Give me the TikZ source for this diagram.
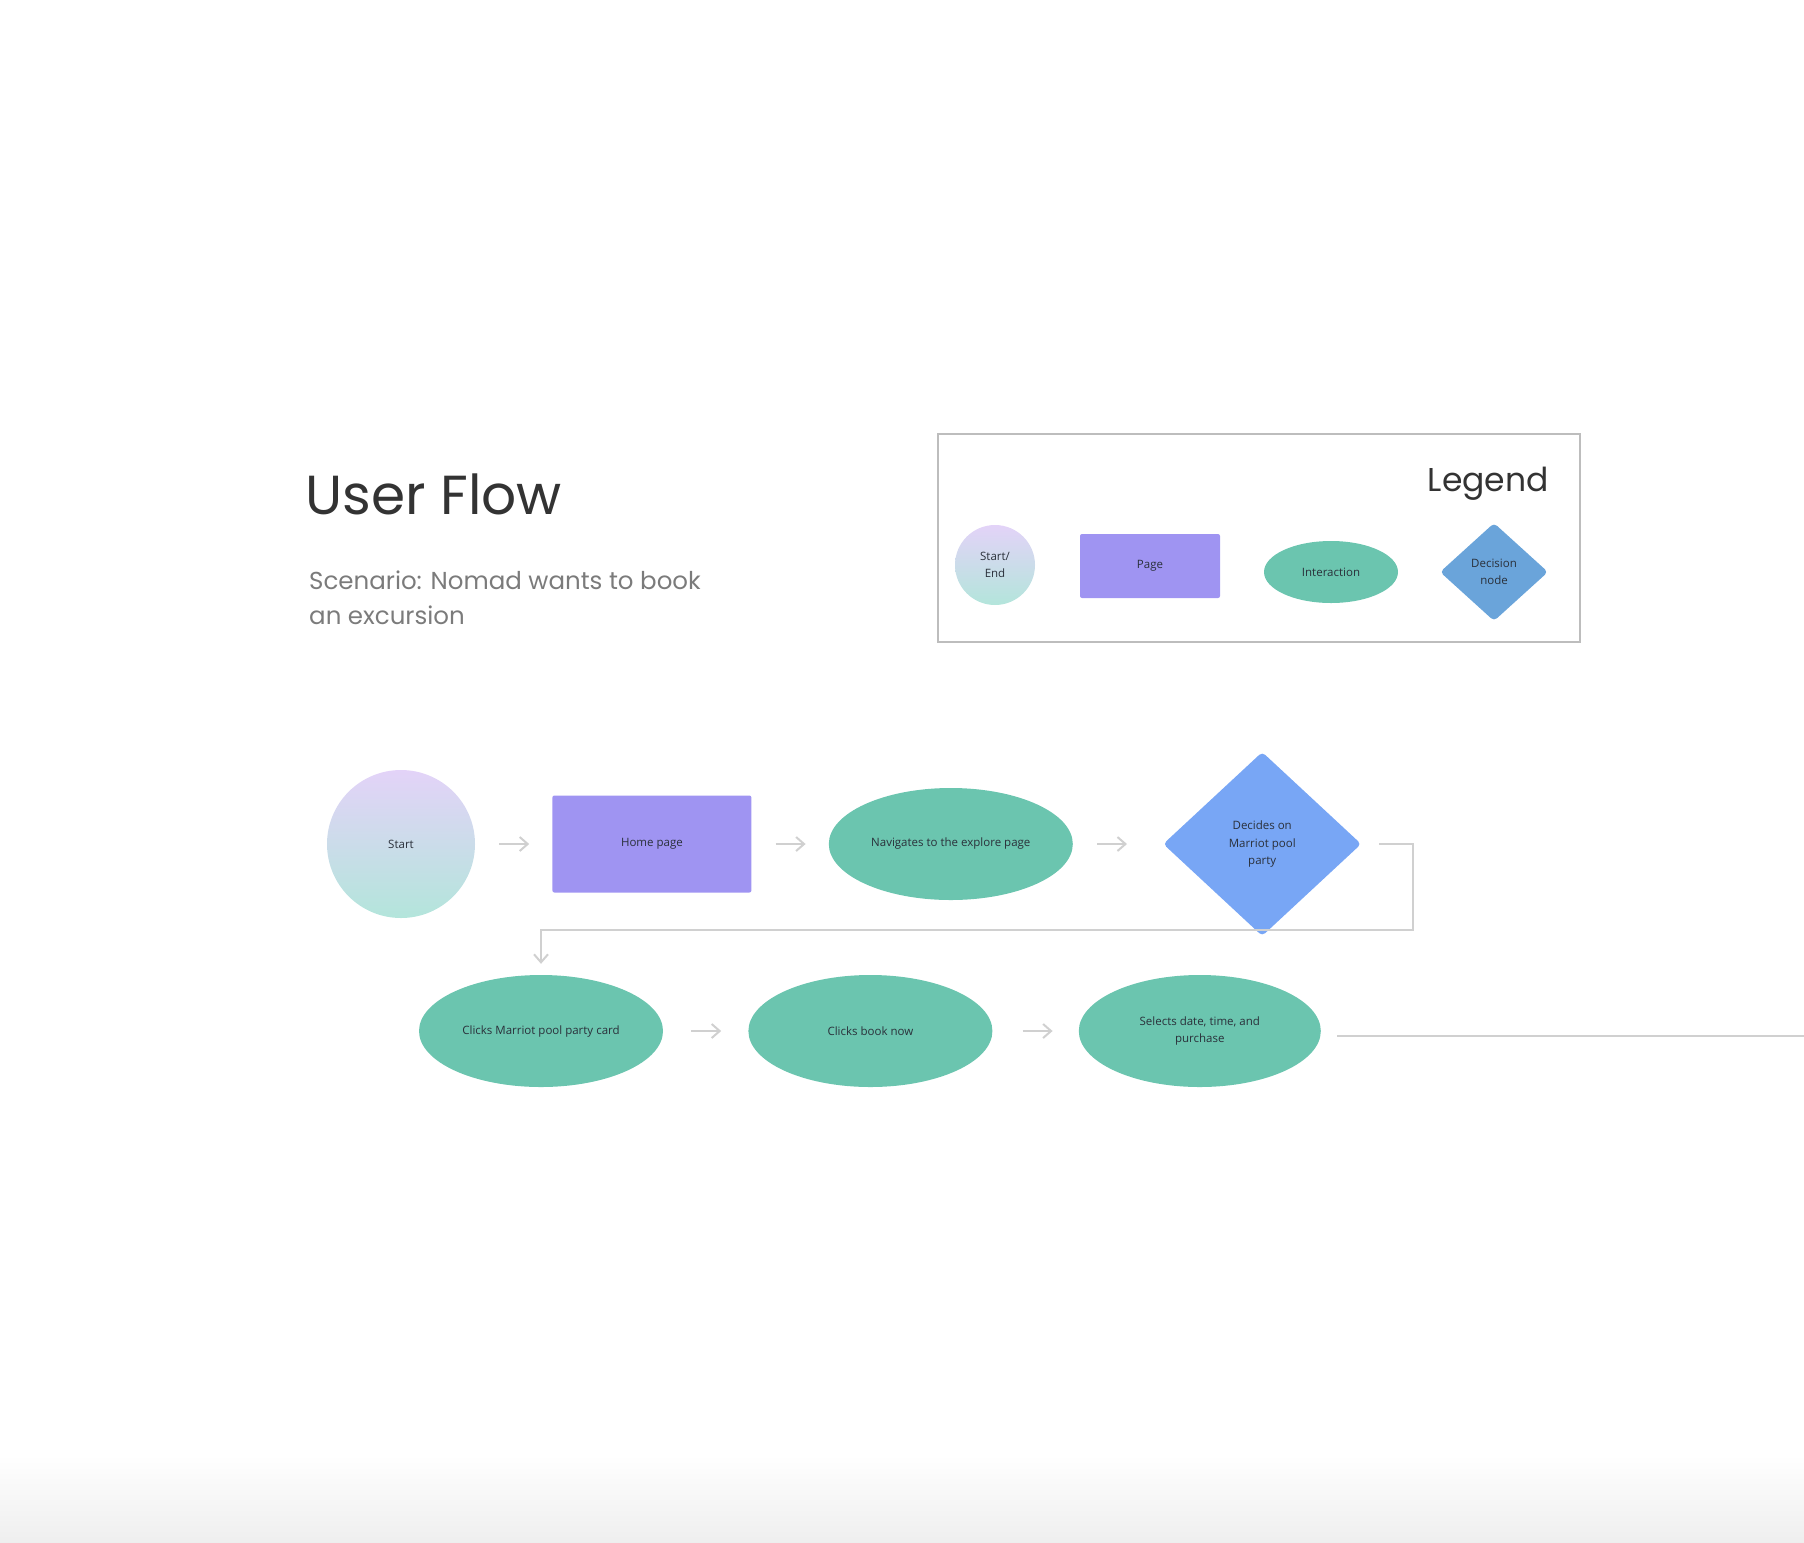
\documentclass[tikz,border=0pt]{standalone}
\usepackage{fontspec}
\usepackage{xcolor}
\usepackage{tikz}
\usetikzlibrary{arrows.meta, positioning, shapes.geometric}
\setmainfont{Open Sans}
\newfontfamily\poppins{Poppins}
\definecolor{lav}{HTML}{E3D3F8}
\definecolor{mint}{HTML}{B3E5DB}
\definecolor{pagepurple}{HTML}{9F94F2}
\definecolor{actgreen}{HTML}{6BC5AF}
\definecolor{decblue}{HTML}{78A6F5}
\definecolor{legblue}{HTML}{6AA4DA}
\definecolor{ink}{HTML}{2A303A}
\definecolor{titleink}{HTML}{333333}
\definecolor{subink}{HTML}{7B7B7B}
\definecolor{linegray}{HTML}{D0D0D0}
\definecolor{boxgray}{HTML}{BDBDBD}

\begin{document}
\begin{tikzpicture}[
      x=1pt, y=-1pt,
      node distance=77pt and 77pt,
      startend/.style={circle, inner sep=0pt, top color=lav, bottom color=mint, draw=none, align=center, font=\fontsize{11.5}{17}\selectfont, text=ink},
      pagebox/.style={rectangle, rounded corners=2pt, fill=pagepurple, inner sep=0pt, align=center, font=\fontsize{11.5}{17}\selectfont, text=ink},
      act/.style={ellipse, fill=actgreen, inner sep=0pt, align=center, font=\fontsize{11.5}{17}\selectfont, text=ink},
      choice/.style={diamond, fill=decblue, rounded corners=4pt, inner sep=0pt, align=center, font=\fontsize{11.5}{17}\selectfont, text=ink},
      arr/.style={-{Straight Barb[length=8pt, width=14pt]}, line width=2pt, draw=linegray},
      link/.style={line width=2pt, draw=linegray}
    ]
    \useasboundingbox (0,0) rectangle (1804,1542);
    \shade[top color=white, bottom color=gray!13] (0,1455) rectangle (1804,1542);

    \node[anchor=base west, inner sep=0pt, font=\poppins\fontsize{55}{62}\selectfont, text=titleink] (title) at (305,514) {User Flow};
    \node[anchor=base west, inner sep=0pt, align=left, font=\poppins\fontsize{24.5}{35}\selectfont, text=subink] (scenario) at (309,624) {Scenario: Nomad wants to book\\an excursion};

    \node[draw=boxgray, line width=1.5pt, minimum width=642pt, minimum height=208pt, inner sep=0pt] (legend) at (1259,538) {};
    \node[anchor=east, inner sep=0pt, font=\poppins\fontsize{33}{36}\selectfont, text=titleink] (legtitle) at (1549,484) {Legend};
    \node[startend, minimum size=80pt] (lse) at (995,565) {Start/\\End};
    \node[pagebox, minimum width=140pt, minimum height=64pt] (lpage) at (1150,566) {Page};
    \node[act, minimum width=134pt, minimum height=62pt] (lact) at (1331,572) {Interaction};
    \node[choice, fill=legblue, minimum width=108pt, minimum height=98pt] (ldec) at (1494,572) {Decision\\node};

    \node[startend, minimum size=148pt] (start) at (401,844) {Start};
    \node[pagebox, minimum width=199pt, minimum height=97pt, right=77pt of start] (home) {Home page};
    \node[act, minimum width=244pt, minimum height=112pt, right=77pt of home] (nav) {Navigates to the explore page};
    \node[choice, minimum width=198pt, minimum height=184pt, right=90pt of nav] (dec) {Decides on\\Marriot pool\\party};

    \node[act, minimum width=244pt, minimum height=112pt] (card) at (541,1031) {Clicks Marriot pool party card};
    \node[act, minimum width=244pt, minimum height=112pt, right=85pt of card] (book) {Clicks book now};
    \node[act, minimum width=242pt, minimum height=112pt, right=86pt of book] (sel) {Selects date, time, and\\purchase};
    \coordinate (exit) at (1804,1036);

    \draw[arr, shorten <=24pt, shorten >=23pt] (start) -- (home);
    \draw[arr, shorten <=24pt, shorten >=23pt] (home) -- (nav);
    \draw[arr, shorten <=24pt, shorten >=36pt] (nav) -- (dec);
    \draw[arr, shorten <=18pt, shorten >=11pt] (dec.east) -- ++(52,0) -- ++(0,86) -| (card.north);
    \draw[arr, shorten <=28pt, shorten >=27pt] (card) -- (book);
    \draw[arr, shorten <=30pt, shorten >=26pt] (book) -- (sel);
    \draw[link] (sel.east) ++(16,5) -- (exit);
  \end{tikzpicture}
\end{document}
